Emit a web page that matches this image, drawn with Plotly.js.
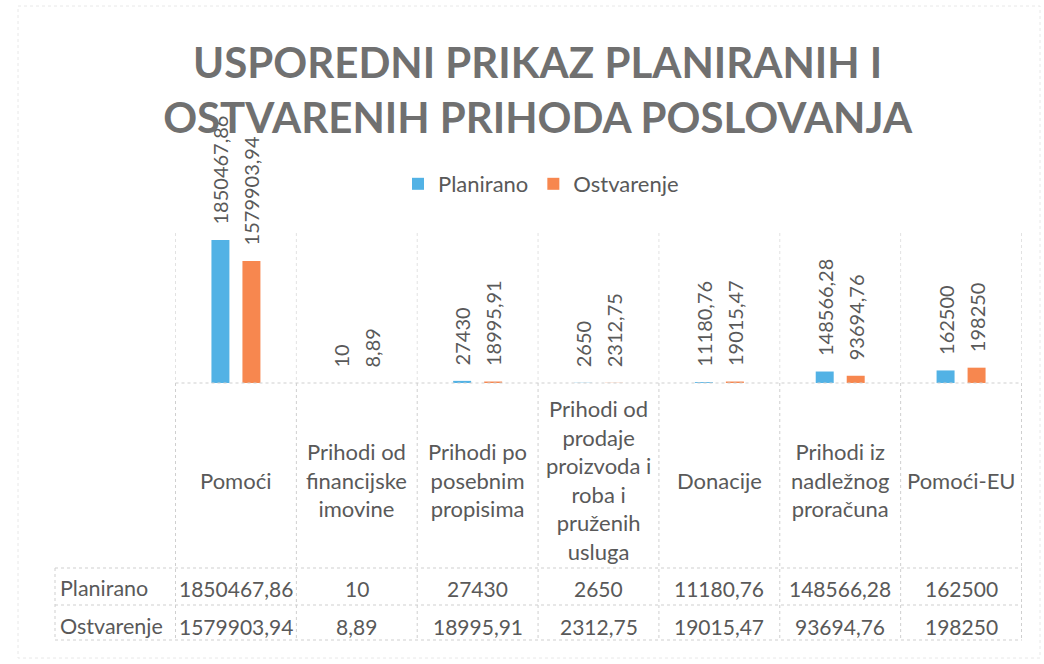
<!DOCTYPE html>
<html><head><meta charset="utf-8">
<script src="https://cdn.plot.ly/plotly-3.0.1.min.js"></script>
<style>html,body{margin:0;padding:0;background:#fff}#chart{width:1044px;height:664px}</style>
</head><body><div id="chart"></div>
<script>
const categories = ["Pomoći", "Prihodi od financijske imovine", "Prihodi po posebnim propisima",
  "Prihodi od prodaje proizvoda i roba i pruženih usluga", "Donacije", "Prihodi iz nadležnog proračuna", "Pomoći-EU"];
const categoryLabels = ["Pomoći", "Prihodi od<br>financijske<br>imovine", "Prihodi po<br>posebnim<br>propisima",
  "Prihodi od<br>prodaje<br>proizvoda i<br>roba i<br>pruženih<br>usluga", "Donacije", "Prihodi iz<br>nadležnog<br>proračuna", "Pomoći-EU"];
const seriesNames = ["Planirano", "Ostvarenje"];
const planirano = [1850467.86, 10, 27430, 2650, 11180.76, 148566.28, 162500];
const ostvarenje = [1579903.94, 8.89, 18995.91, 2312.75, 19015.47, 93694.76, 198250];
const titleText = "USPOREDNI PRIKAZ PLANIRANIH I<br>OSTVARENIH PRIHODA POSLOVANJA";

const W = 1044, H = 664;
const px = x => x / W;
const py = y => 1 - y / H;
const fmt = v => String(v).replace('.', ',');
const colors = ["#52B2E5", "#F7874F"];
const textColor = "#595959";
const FONT = "Lato, 'Open Sans', sans-serif";
const series = [planirano, ostvarenje];

const plotLeft = 175, plotRight = 1022, plotTop = 110, plotBottom = 383;
const bargap = 0.487;

const traces = series.map((vals, s) => ({
  type: 'bar', name: seriesNames[s], x: categories, y: vals,
  marker: {color: colors[s]}, hoverinfo: 'none',
  text: vals.map(v => '\u2002\u2009' + fmt(v)), textposition: 'outside', textangle: -90,
  constraintext: 'none', cliponaxis: false,
  outsidetextfont: {family: FONT, size: 20, color: textColor}
}));

const annotations = [];
// header category labels
categories.forEach((c, i) => {
  annotations.push({
    xref: 'x', yref: 'paper', x: c, y: py(480), text: categoryLabels[i],
    showarrow: false, xanchor: 'center', yanchor: 'middle',
    font: {family: FONT, size: 22, color: textColor}
  });
});
// table rows
const rowY = [588, 626];
series.forEach((vals, s) => {
  annotations.push({
    xref: 'paper', yref: 'paper', x: px(58), y: py(rowY[s]), text: seriesNames[s],
    showarrow: false, xanchor: 'left', yanchor: 'middle',
    font: {family: FONT, size: 21.5, color: textColor}
  });
  vals.forEach((v, i) => {
    annotations.push({
      xref: 'x', yref: 'paper', x: categories[i], y: py(rowY[s]), text: fmt(v),
      showarrow: false, xanchor: 'center', yanchor: 'middle',
      font: {family: FONT, size: 21, color: textColor}
    });
  });
});

const line = {color: '#cfcfcf', width: 1, dash: 'dot'};
const faint = {color: '#e2e2e2', width: 1, dash: 'dot'};
const shapes = [];
// outer border
shapes.push({type: 'rect', xref: 'paper', yref: 'paper', x0: px(18), x1: px(1040), y0: py(6), y1: py(658), line: {color: '#e8e8e8', width: 1, dash: 'dot'}});
// horizontal table lines
shapes.push({type: 'line', xref: 'x', yref: 'paper', x0: -0.5, x1: categories.length - 0.5, y0: py(plotBottom), y1: py(plotBottom), line: line});
[568, 605, 640].forEach(y => shapes.push({type: 'line', xref: 'paper', yref: 'paper', x0: px(55), x1: px(plotRight), y0: py(y), y1: py(y), line: line}));
// vertical lines
for (let i = 0; i <= categories.length; i++) {
  shapes.push({type: 'line', xref: 'x', yref: 'paper', x0: i - 0.5, x1: i - 0.5, y0: py(233), y1: py(plotBottom), line: faint});
  shapes.push({type: 'line', xref: 'x', yref: 'paper', x0: i - 0.5, x1: i - 0.5, y0: py(plotBottom), y1: py(640), line: line});
}
shapes.push({type: 'line', xref: 'paper', yref: 'paper', x0: px(55), x1: px(55), y0: py(568), y1: py(640), line: line});

const yMax = 1850467.86 * (plotBottom - plotTop) / 143;

const layout = {
  width: W, height: H,
  margin: {l: 0, r: 0, t: 0, b: 0},
  paper_bgcolor: '#ffffff', plot_bgcolor: 'rgba(0,0,0,0)',
  font: {family: FONT, color: textColor},
  title: {text: '<b>' + titleText + '</b>', font: {family: FONT, size: 42, color: '#707070'},
    x: 0.515, xanchor: 'center', xref: 'paper', yref: 'container', y: 1 - 78 / H, yanchor: 'top'},
  barmode: 'group', bargap: bargap, bargroupgap: 0.42,
  uniformtext: {mode: false},
  xaxis: {domain: [px(plotLeft), px(plotRight)], showticklabels: false, showgrid: false, zeroline: false, showline: false, ticks: ''},
  yaxis: {domain: [py(plotBottom), py(plotTop)], range: [0, yMax], showticklabels: false, showgrid: false, zeroline: false, showline: false, ticks: ''},
  showlegend: true,
  legend: {orientation: 'h', x: px(398), xanchor: 'left', y: py(184), yanchor: 'middle',
    font: {family: FONT, size: 22, color: textColor}, bgcolor: 'rgba(0,0,0,0)', traceorder: 'normal'},
  annotations: annotations, shapes: shapes
};

Plotly.newPlot('chart', traces, layout, {displayModeBar: false, staticPlot: true});
</script></body></html>
